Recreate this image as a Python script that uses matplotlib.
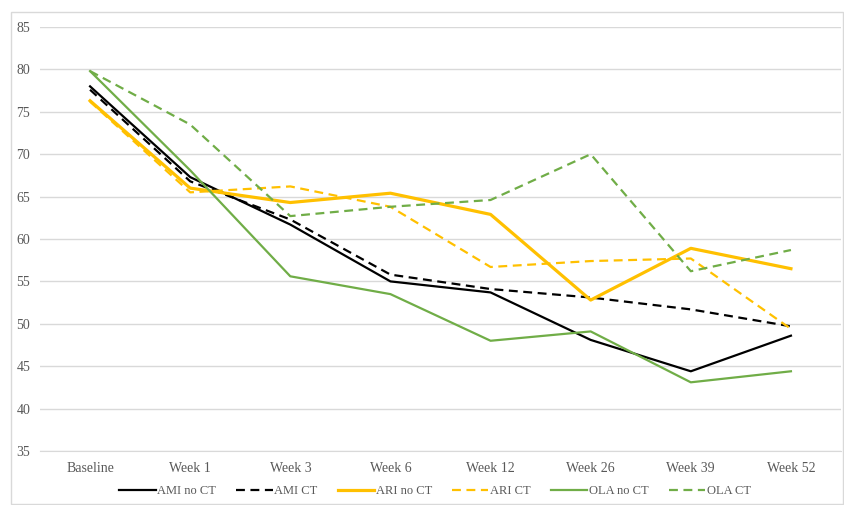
import matplotlib.pyplot as plt
from matplotlib.patches import Rectangle

plt.rcParams['font.family'] = ['Liberation Serif', 'DejaVu Serif']

weeks = ["Baseline", "Week 1", "Week 3", "Week 6", "Week 12", "Week 26", "Week 39", "Week 52"]

ami_no_ct = [78.0, 67.3, 61.7, 55.0, 53.7, 48.1, 44.4, 48.6]
ami_ct = [77.6, 66.8, 62.3, 55.8, 54.1, 53.1, 51.7, 49.7]
ari_no_ct = [76.3, 66.0, 64.3, 65.4, 62.9, 52.8, 58.9, 56.5]
ari_ct = [76.2, 65.5, 66.2, 63.8, 56.7, 57.4, 57.7, 49.4]
ola_no_ct = [79.8, 68.1, 55.6, 53.5, 48.0, 49.1, 43.1, 44.4]
ola_ct = [79.8, 73.5, 62.7, 63.8, 64.6, 70.0, 56.2, 58.7]

black = "#000000"
gold = "#FFC000"
green = "#70AD47"
dash = (0, (4, 2.5))

fig = plt.figure(figsize=(8.44, 5.05), dpi=100)
ax = fig.add_axes([40 / 844, 1 - 451 / 505, 801 / 844, 424 / 505])

x = range(len(weeks))
ax.plot(x, ami_no_ct, color=black, lw=1.6, label="AMI no CT")
ax.plot(x, ami_ct, color=black, lw=1.6, ls=dash, label="AMI CT")
ax.plot(x, ari_no_ct, color=gold, lw=2.3, label="ARI no CT")
ax.plot(x, ari_ct, color=gold, lw=1.6, ls=dash, label="ARI CT")
ax.plot(x, ola_no_ct, color=green, lw=1.6, label="OLA no CT")
ax.plot(x, ola_ct, color=green, lw=1.6, ls=dash, label="OLA CT")

ax.set_xlim(-0.5, len(weeks) - 0.5)
ax.set_ylim(35, 85)
ax.set_yticks(range(35, 86, 5))
ax.set_xticks(list(x))
ax.set_xticklabels(weeks)
ax.grid(axis="y", color="#D9D9D9", lw=1)
ax.set_axisbelow(True)
for s in ["top", "right", "left"]:
    ax.spines[s].set_visible(False)
ax.spines["bottom"].set_color("#D9D9D9")
ax.tick_params(length=0, colors="#595959", labelsize=10)
ax.tick_params(axis="y", pad=7)
ax.tick_params(axis="x", pad=8)

leg = fig.legend(loc="center", bbox_to_anchor=(435 / 844, 1 - 491 / 505), ncol=6,
                 frameon=False, fontsize=9, handlelength=2.9, handletextpad=0.15,
                 columnspacing=1.6)
for t in leg.get_texts():
    t.set_color("#595959")

fig.patches.append(Rectangle((11 / 844, 1 / 505), 832 / 844, 492 / 505, transform=fig.transFigure,
                             fill=False, edgecolor="#D9D9D9", lw=1))

fig.savefig("out.png", dpi=100)
